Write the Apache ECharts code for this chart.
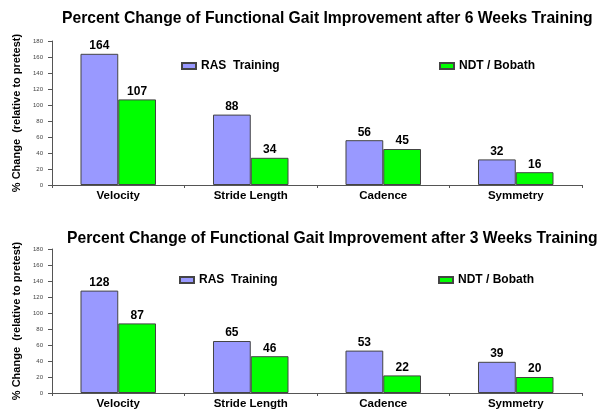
<!DOCTYPE html>
<html><head><meta charset="utf-8">
<script src="https://cdn.jsdelivr.net/npm/echarts@6/dist/echarts.min.js"></script>
<style>html,body{margin:0;padding:0;background:#fff}#c{width:600px;height:410px}</style>
</head><body><div id="c"></div>
<script>
const categories = ['Velocity', 'Stride Length', 'Cadence', 'Symmetry'];
const ras6 = [164, 88, 56, 32];
const ndt6 = [107, 34, 45, 16];
const ras3 = [128, 65, 53, 39];
const ndt3 = [87, 46, 22, 20];
const title6 = 'Percent Change of Functional Gait Improvement after 6 Weeks Training';
const title3 = 'Percent Change of Functional Gait Improvement after 3 Weeks Training';
const yName = '% Change  (relative to pretest)';
const rasName = 'RAS  Training';
const ndtName = 'NDT / Bobath';

const FONT = 'Liberation Sans, Arial, sans-serif';
const chart = echarts.init(document.getElementById('c'), null, {renderer: 'canvas'});
function xAx(i){return {type:'category', gridIndex:i, data:categories,
  axisLine:{lineStyle:{color:'#555',width:1}},
  axisTick:{show:true, length:3, lineStyle:{color:'#555'}},
  axisLabel:{color:'#000', fontFamily:FONT, fontWeight:'bold', fontSize:11.5, margin:5}};}
function yAx(i){return {type:'value', gridIndex:i, min:0, max:180, interval:20,
  name:yName, nameLocation:'middle', nameGap:29, nameRotate:90,
  nameTextStyle:{color:'#000', fontFamily:FONT, fontWeight:'bold', fontSize:11},
  axisLine:{show:true, lineStyle:{color:'#555',width:1}},
  axisTick:{show:true, length:4, lineStyle:{color:'#555'}},
  splitLine:{show:false},
  axisLabel:{color:'#444', fontFamily:FONT, fontSize:6, margin:9}};}
const lbl = {show:true, position:'top', distance:2, color:'#000', fontFamily:FONT, fontWeight:'bold', fontSize:12};
function bar(name, data, color, i){return {type:'bar', name:name, data:data, xAxisIndex:i, yAxisIndex:i,
  barGap:'0%', barCategoryGap:'43%',
  itemStyle:{color:color, borderColor:'#444', borderWidth:1}, label:lbl};}
function leg(name, left, top){return {data:[name], left:left, top:top, itemWidth:14, itemHeight:6,
  icon:'rect', textStyle:{color:'#000', fontFamily:FONT, fontWeight:'bold', fontSize:12}};}
chart.setOption({
  animation:false,
  title:[
    {text:title6, left:57, top:6, textStyle:{color:'#000', fontFamily:FONT, fontWeight:'bold', fontSize:15.7}},
    {text:title3, left:62, top:226, textStyle:{color:'#000', fontFamily:FONT, fontWeight:'bold', fontSize:15.7}}
  ],
  legend:[leg(rasName,176,55), leg(ndtName,434,55), leg(rasName,174,269), leg(ndtName,433,269)],
  grid:[
    {left:52, width:530, top:41, height:144},
    {left:52, width:530, top:249, height:146}
  ],
  xAxis:[xAx(0), xAx(1)],
  yAxis:[yAx(0), yAx(1)],
  series:[
    bar(rasName, ras6, '#9999ff', 0), bar(ndtName, ndt6, '#00ff00', 0),
    bar(rasName, ras3, '#9999ff', 1), bar(ndtName, ndt3, '#00ff00', 1)
  ]
});
</script></body></html>
